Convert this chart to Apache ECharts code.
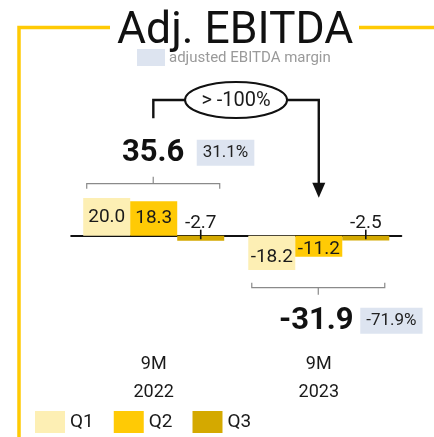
<!DOCTYPE html>
<html>
<head>
<meta charset="utf-8">
<script src="https://cdn.jsdelivr.net/npm/echarts@6/dist/echarts.min.js"></script>
<style>
  html, body { margin: 0; padding: 0; background: #fff; }
  #chart { width: 434px; height: 437px; }
</style>
</head>
<body>
<div id="chart"></div>
<script>
// data
const categories = ['9M\n2022', '9M\n2023'];
const quarterNames = ['Q1', 'Q2', 'Q3'];
const q1 = [20.0, -18.2];
const q2 = [18.3, -11.2];
const q3 = [-2.7, -2.5];
const totals = [35.6, -31.9];
const margins = ['31.1%', '-71.9%'];
const changeText = '> -100%';

const colors = ['#fdefb4', '#ffca05', '#d4a900'];
const FONT = "Roboto, sans-serif";
const BAR_W = 47;

let chart = echarts.init(document.getElementById('chart'));

function barLabel(pos, dist) {
  return {
    show: true,
    position: pos,
    distance: dist,
    fontFamily: FONT,
    fontSize: 19,
    color: '#1a1a1a',
    formatter: p => p.value.toFixed(1)
  };
}

// negative labels sit a little lower in the reference
function withOffset(values, dy) {
  return values.map(v => (v < 0 ? { value: v, label: { offset: [0, dy] } } : v));
}

// small axis ticks, under the Q3 bars
function renderTick(params, api) {
  const p = api.coord([api.value(0), 0]);
  const x = p[0] + BAR_W;
  return {
    type: 'line',
    shape: { x1: x, y1: p[1] - 6, x2: x, y2: p[1] + 3.5 },
    style: { stroke: '#111', lineWidth: 1.6 }
  };
}

// bracket, total and margin box per period
function renderTotal(params, api) {
  const idx = api.value(0);
  const total = totals[idx];
  const p = api.coord([idx, 0]);
  const left = p[0] - BAR_W * 1.5 + 3.5;
  const right = p[0] + BAR_W * 1.5 - 4.5;
  const mid = (left + right) / 2;
  const up = total >= 0;
  const s = up ? -1 : 1;
  const lineY = p[1] + s * 52;
  const textY = up ? p[1] - 82 : p[1] + 86;
  const stroke = { stroke: '#8a8a8a', lineWidth: 1.2, fill: null };
  return {
    type: 'group',
    children: [
      {
        type: 'polyline',
        shape: { points: [[left, lineY - s * 5], [left, lineY], [right, lineY], [right, lineY - s * 5]] },
        style: stroke
      },
      {
        type: 'line',
        shape: { x1: mid, y1: lineY, x2: mid, y2: lineY + s * 7 },
        style: stroke
      },
      {
        type: 'text',
        style: {
          text: total.toFixed(1),
          x: mid - (up ? 0 : 2), y: textY,
          align: 'center', verticalAlign: 'middle',
          fontFamily: FONT, fontSize: 31, fontWeight: 'bold', fill: '#111'
        }
      },
      {
        type: 'text',
        style: {
          text: margins[idx],
          x: mid + (up ? 43.5 : 42), y: textY - 1,
          align: 'left', verticalAlign: 'middle',
          fontFamily: FONT, fontSize: 17, fill: '#222',
          backgroundColor: '#dde4f0',
          padding: [5, 6, 4, 6]
        }
      }
    ]
  };
}

// arrow with the change ellipse between the two totals
function renderArrow(params, api) {
  const a = api.coord([0, 0]);
  const b = api.coord([1, 0]);
  const x0 = a[0] - 0.4;
  const x1 = b[0];
  const axisY = a[1];
  const topY = axisY - 135.7;
  const line = { stroke: '#111', lineWidth: 2.4, fill: null };
  return {
    type: 'group',
    children: [
      {
        type: 'polyline',
        shape: { points: [[x0, axisY - 117.5], [x0, topY], [x1, topY], [x1, axisY - 50]] },
        style: line
      },
      {
        type: 'polygon',
        shape: { points: [[x1 - 6.5, axisY - 53], [x1 + 6.5, axisY - 53], [x1, axisY - 38]] },
        style: { fill: '#111' }
      },
      {
        type: 'ellipse',
        shape: { cx: (x0 + x1) / 2, cy: topY, rx: 51, ry: 18 },
        style: { fill: '#fff', stroke: '#111', lineWidth: 2 }
      },
      {
        type: 'text',
        style: {
          text: changeText,
          x: (x0 + x1) / 2, y: topY + 1,
          align: 'center', verticalAlign: 'middle',
          fontFamily: FONT, fontSize: 20, fill: '#1a1a1a'
        }
      }
    ]
  };
}

let option = {
  animation: false,
  title: {
    text: 'Adj. EBITDA',
    left: 112,
    top: 4,
    textStyle: { fontFamily: 'Roboto', fontSize: 44.5, fontWeight: 'normal', color: '#111' }
  },
  graphic: [
    {
      type: 'polyline',
      shape: { points: [[19, 437], [19, 27.5], [110, 27.5]] },
      style: { stroke: '#ffca05', lineWidth: 3.5, fill: null }
    },
    {
      type: 'line',
      shape: { x1: 359, y1: 27.5, x2: 434, y2: 27.5 },
      style: { stroke: '#ffca05', lineWidth: 3.5 }
    },
    {
      type: 'rect',
      shape: { x: 137, y: 49, width: 28, height: 17 },
      style: { fill: '#dde4f0' }
    },
    {
      type: 'text',
      x: 169, y: 58,
      style: {
        text: 'adjusted EBITDA margin',
        verticalAlign: 'middle',
        fontFamily: 'Roboto', fontSize: 15, fill: '#9a9a9a'
      }
    }
  ],
  legend: {
    data: quarterNames,
    left: 30,
    top: 406,
    icon: 'rect',
    itemWidth: 30,
    itemHeight: 22,
    itemGap: 20,
    textStyle: { fontFamily: FONT, fontSize: 19, color: '#1a1a1a' }
  },
  grid: {
    left: 71.2,
    right: 32.7,
    top: 188.7,
    height: 84.6
  },
  xAxis: {
    type: 'category',
    data: categories,
    axisLine: { lineStyle: { color: '#111', width: 2 } },
    axisTick: { show: false },
    axisLabel: {
      margin: 77,
      fontFamily: FONT,
      fontSize: 18,
      lineHeight: 28,
      color: '#1a1a1a'
    }
  },
  yAxis: {
    type: 'value',
    min: -20,
    max: 25,
    show: false,
    splitLine: { show: false }
  },
  series: [
    {
      name: quarterNames[0], type: 'bar', data: withOffset(q1, 4),
      barWidth: BAR_W, barGap: '0%',
      itemStyle: { color: colors[0] },
      label: barLabel('inside', 5)
    },
    {
      name: quarterNames[1], type: 'bar', data: withOffset(q2, 3),
      barWidth: BAR_W, barGap: '0%',
      itemStyle: { color: colors[1] },
      label: barLabel('inside', 5)
    },
    {
      name: quarterNames[2], type: 'bar', data: q3,
      barWidth: BAR_W, barGap: '0%',
      itemStyle: { color: colors[2] },
      label: barLabel('top', 3)
    },
    {
      type: 'custom', name: 'ticks',
      data: categories.map((c, i) => [i, 0]),
      renderItem: renderTick, z: 5, silent: true
    },
    {
      type: 'custom', name: 'totals',
      data: categories.map((c, i) => [i, totals[i]]),
      renderItem: renderTotal, z: 5, silent: true
    },
    {
      type: 'custom', name: 'arrow',
      data: [[0, 1]],
      renderItem: renderArrow, z: 5, silent: true
    }
  ]
};

chart.setOption(option);
window.onresize = function () {
  chart.resize();
};
</script>
</body>
</html>
